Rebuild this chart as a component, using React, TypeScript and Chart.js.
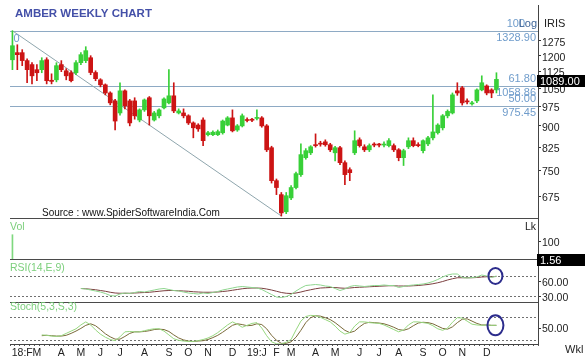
import { useEffect, useRef } from "react";
import { Chart, registerables } from "chart.js";

Chart.register(...registerables);

const TITLE = "AMBER WEEKLY CHART";
const SOURCE = "Source : www.SpiderSoftwareIndia.Com";

// Weekly candles (Feb 2018 - Dec 2019)
const OPEN = [
  1180, 1215, 1215, 1176, 1157, 1133, 1133, 1180, 1085, 1087,
  1157, 1128, 1119, 1119, 1166, 1176, 1190, 1120, 1087, 1065,
  1030, 997, 949, 1039, 997, 997, 922, 961, 1010, 922,
  938, 969, 989, 1018, 949, 949, 938, 911, 903, 922,
  868, 868, 868, 875, 903, 930, 885, 900, 922, 922,
  928, 930, 900, 823, 719, 679, 633, 670, 699, 737,
  790, 806, 833, 836, 843, 833, 806, 823, 774, 752,
  806, 850, 826, 816, 833, 833, 832, 830, 830, 816,
  790, 826, 847, 833, 813, 836, 857, 875, 893, 938,
  949, 1039, 1052, 997, 985, 997, 1043, 1060, 1043, 1043,
];
const HIGH = [
  1329, 1255, 1230, 1185, 1166, 1157, 1190, 1190, 1114, 1166,
  1176, 1138, 1128, 1176, 1215, 1245, 1200, 1128, 1092, 1069,
  1035, 1003, 1074, 1043, 1003, 1010, 965, 1005, 1015, 955,
  965, 1010, 1133, 1074, 965, 965, 942, 915, 908, 930,
  880, 882, 885, 922, 935, 961, 905, 945, 930, 928,
  961, 935, 905, 828, 724, 685, 685, 705, 745, 836,
  820, 830, 871, 845, 850, 838, 828, 828, 780, 758,
  882, 857, 833, 836, 840, 838, 843, 854, 836, 820,
  818, 857, 857, 840, 850, 862, 1022, 908, 943, 961,
  1030, 1074, 1058, 1005, 995, 1048, 1105, 1065, 1048, 1119,
];
const LOW = [
  1133, 1133, 1152, 1074, 1069, 1083, 1119, 1069, 1069, 1078,
  1124, 1087, 1078, 1110, 1157, 1166, 1110, 1083, 1056, 1022,
  981, 885, 940, 965, 900, 925, 915, 955, 903, 918,
  930, 965, 985, 950, 945, 930, 905, 857, 880, 830,
  864, 865, 865, 870, 900, 878, 880, 896, 915, 916,
  922, 895, 810, 712, 679, 622, 628, 665, 695, 732,
  785, 800, 825, 828, 828, 810, 780, 768, 707, 719,
  800, 825, 810, 810, 826, 826, 826, 826, 810, 780,
  765, 820, 826, 826, 806, 830, 850, 870, 885, 930,
  945, 1020, 980, 985, 980, 990, 1039, 1022, 1010, 1030,
];
const CLOSE = [
  1250, 1205, 1176, 1133, 1105, 1119, 1176, 1083, 1080, 1152,
  1133, 1105, 1083, 1166, 1205, 1225, 1120, 1092, 1065, 1030,
  989, 918, 1039, 977, 911, 938, 961, 1001, 938, 949,
  961, 1005, 1018, 957, 957, 938, 911, 893, 889, 847,
  875, 877, 879, 918, 930, 882, 900, 938, 920, 921,
  931, 900, 816, 719, 699, 630, 676, 699, 740, 800,
  813, 826, 830, 835, 833, 816, 823, 774, 737, 743,
  847, 830, 816, 830, 832, 832, 834, 847, 816, 790,
  813, 847, 830, 830, 847, 857, 878, 903, 938, 955,
  1022, 1030, 989, 993, 989, 1043, 1074, 1030, 1030, 1089,
];
const VOLUME = [135];

const RSI_START = 14;
const RSI_LINE = [
  45, 44, 42, 40, 38, 35, 31, 30, 34, 36,
  35, 37, 39, 38, 40, 42, 44, 45, 43, 41,
  40, 38, 36, 35, 34, 36, 35, 37, 39, 42,
  44, 46, 48, 49, 48, 47, 46, 43, 38, 33,
  28, 27, 29, 33, 40, 46, 51, 52, 53, 52,
  50, 49, 45, 41, 44, 49, 51, 50, 49, 50,
  51, 51, 52, 51, 51, 47, 49, 51, 52, 53,
  54, 56, 59, 63, 68, 72, 74, 74, 67, 66,
  67, 68, 72, 70, 67, 70,
];
const RSI_SIGNAL = [
  45, 44.5, 43.5, 42.5, 41, 39.5, 37.5, 36, 35.5, 35.5,
  35.5, 36, 36.5, 37, 37.5, 38.5, 39.5, 40.5, 41, 41,
  40.5, 40, 39.5, 38.5, 38, 37.5, 37.5, 37.5, 38, 39,
  40, 41.5, 43, 44.5, 45.5, 46, 46, 45.5, 44, 42,
  39.5, 37, 35.5, 35, 36, 38, 40.5, 42.5, 44.5, 46,
  46.5, 47, 47, 46, 45.5, 46, 47, 47.5, 48, 48.5,
  49, 49.5, 50, 50.5, 50.5, 50, 50, 50, 50.5, 51,
  52, 53, 54.5, 56.5, 59, 62, 64.5, 66.5, 66.5, 66.5,
  66.5, 67, 68, 68.5, 68.5, 69,
];

const STOCH_START = 6;
const STOCH_K = [
  32, 31, 29, 28, 30, 36, 42, 48, 58, 66,
  58, 45, 34, 26, 20, 17, 27, 40, 41, 40,
  40, 43, 46, 48, 48, 42, 32, 22, 18, 16,
  15, 15, 17, 20, 24, 30, 38, 48, 58, 66,
  60, 52, 57, 62, 64, 50, 30, 14, 9, 8,
  13, 20, 45, 68, 80, 83, 82, 78, 72, 66,
  55, 42, 34, 38, 55, 66, 66, 64, 63, 62,
  58, 52, 46, 40, 45, 58, 66, 66, 64, 62,
  56, 48, 44, 50, 65, 77, 76, 68, 60, 58,
  57, 58, 57, 57,
];
const STOCH_D = [
  30, 31, 30, 29, 29, 31, 36, 42, 49, 57,
  61, 56, 46, 35, 27, 21, 21, 28, 36, 40,
  40, 41, 43, 46, 47, 46, 41, 32, 24, 19,
  16, 15, 16, 17, 20, 25, 31, 39, 48, 57,
  61, 59, 56, 57, 61, 59, 48, 31, 18, 10,
  10, 14, 26, 44, 64, 77, 82, 81, 77, 72,
  64, 54, 44, 38, 42, 53, 62, 65, 64, 63,
  61, 57, 52, 46, 44, 48, 56, 63, 65, 64,
  61, 55, 49, 47, 53, 64, 73, 74, 68, 62,
  58, 58, 57, 57,
];

const BLANK_WEEKS = 8;
const MONTH_TICK_WEEKS = [2, 5, 10, 14, 18, 22, 27, 32, 36, 40, 45, 50, 54, 57, 62, 66, 71, 75, 79, 84, 88, 92, 97];
const MONTH_TICK_LABELS = ["18:F", "M", "A", "M", "J", "J", "A", "S", "O", "N", "D", "19:J", "F", "M", "A", "M", "J", "J", "A", "S", "O", "N", "D"];
const PRICE_TICKS = [675, 750, 825, 900, 975, 1050, 1125, 1200, 1275];
const VOL_TICKS = [100];
const RSI_TICKS = [30, 60];
const STOCH_TICKS = [50];
const RSI_GUIDES = [70, 30];
const STOCH_GUIDES = [80, 20];
const FIB_PCT = ["100", "61.80", "50.00"];
const FIB_VALUES = [1328.9, 1058.86, 975.45];
const TREND_WEEKS = [0, 55];
const TREND_VALUES = [1328.9, 622];
const LAST_PRICE = 1089.0;
const LAST_VOLUME = 1.56;

const FONT = '"Liberation Sans", Arial, sans-serif';
const GREEN = "#38d038";
const RED = "#cc1414";
const FIB_COLOR = "#8eaac4";
const FIB_TEXT = "#6f9ccb";
const LABEL_GREEN = "#7ccf7c";

const WEEKS = Array.from({ length: OPEN.length + BLANK_WEEKS }, (_, i) => `W${i + 1}`);

function padStart(start: number, values: number[]) {
  return [...Array(start).fill(null), ...values];
}

export default function App() {
  const ref = useRef<HTMLCanvasElement>(null);

  useEffect(() => {
    const canvas = ref.current;
    if (!canvas) return;

    const candleColors = CLOSE.map((c, i) => (c >= OPEN[i] ? GREEN : RED));
    const trend: (number | null)[] = WEEKS.map(() => null);
    TREND_WEEKS.forEach((w, k) => (trend[w] = TREND_VALUES[k]));
    const monthLabel: Record<number, string> = {};
    MONTH_TICK_WEEKS.forEach((w, k) => (monthLabel[w] = MONTH_TICK_LABELS[k]));

    const hline = (ctx: any, x0: number, x1: number, y: number) => {
      const yy = Math.round(y) + 0.5;
      ctx.beginPath();
      ctx.moveTo(x0, yy);
      ctx.lineTo(x1, yy);
      ctx.stroke();
    };

    const overlay = {
      id: "overlay",
      beforeDatasetsDraw(chart: any) {
        const { ctx, chartArea: ca, scales } = chart;
        const { price, vol, rsi, stoch } = scales;
        ctx.save();
        ctx.lineWidth = 1;
        ctx.strokeStyle = FIB_COLOR;
        FIB_VALUES.forEach((v) => hline(ctx, ca.left, ca.right, price.getPixelForValue(v)));
        ctx.strokeStyle = "#707070";
        ctx.setLineDash([2, 2]);
        RSI_GUIDES.forEach((v) => hline(ctx, ca.left, ca.right, rsi.getPixelForValue(v)));
        STOCH_GUIDES.forEach((v) => hline(ctx, ca.left, ca.right, stoch.getPixelForValue(v)));
        ctx.setLineDash([]);
        ctx.strokeStyle = "#4a4a4a";
        [price.bottom, vol.bottom, rsi.bottom].forEach((y) => hline(ctx, ca.left, ca.right, y));
        ctx.restore();
      },
      afterDraw(chart: any) {
        const { ctx, chartArea: ca, scales } = chart;
        const { price, vol, rsi, stoch, x } = scales;
        ctx.save();
        ctx.textBaseline = "middle";

        ctx.textAlign = "left";
        ctx.font = `bold 11.5px ${FONT}`;
        ctx.fillStyle = "#4450a8";
        ctx.fillText(TITLE, 15, 14);

        ctx.font = `10px ${FONT}`;
        ctx.fillStyle = "#111";
        ctx.fillText(SOURCE, ca.left + 32, price.bottom - 5);

        // fib labels
        ctx.font = `11px ${FONT}`;
        ctx.fillStyle = FIB_TEXT;
        const y100 = price.getPixelForValue(FIB_VALUES[0]);
        ctx.fillText("0", x.getPixelForValue(0) + 1, y100 + 8);
        ctx.textAlign = "right";
        FIB_VALUES.forEach((v, k) => {
          const y = price.getPixelForValue(v);
          ctx.fillStyle = FIB_TEXT;
          ctx.fillText(FIB_PCT[k], k === 0 ? ca.right - 13 : ca.right - 2, y - 7);
          ctx.fillText(v.toFixed(2), ca.right - 2, y + 7);
        });
        ctx.fillStyle = "#3f6598";
        ctx.fillText("Log", ca.right - 1, y100 - 7);
        ctx.textAlign = "left";
        ctx.fillStyle = "#222";
        ctx.fillText("IRIS", ca.right + 6, y100 - 7);

        // last value boxes
        const box = (text: string, y: number) => {
          ctx.fillStyle = "#000";
          ctx.fillRect(ca.right - 1, Math.round(y) - 6, 48, 12);
          ctx.fillStyle = "#fff";
          ctx.textAlign = "left";
          ctx.fillText(text, ca.right + 2, Math.round(y) + 0.5);
        };
        box(LAST_PRICE.toFixed(2), price.getPixelForValue(LAST_PRICE) + 2);
        box(LAST_VOLUME.toFixed(2), vol.getPixelForValue(LAST_VOLUME) + 1);

        // panel labels
        ctx.font = `10.5px ${FONT}`;
        ctx.textAlign = "left";
        ctx.fillStyle = LABEL_GREEN;
        ctx.fillText("Vol", ca.left, vol.top + 9);
        ctx.fillText("RSI(14,E,9)", ca.left, rsi.top + 9);
        ctx.fillText("Stoch(5,3,S,3)", ca.left, stoch.top + 5);
        ctx.fillStyle = "#222";
        ctx.textAlign = "right";
        ctx.fillText("Lk", ca.right - 2, vol.top + 9);
        ctx.textAlign = "left";
        ctx.font = `11px ${FONT}`;
        ctx.fillText("Wkl", ca.right + 27, x.top + 6);

        // highlight circles on last values
        const lastIdx = OPEN.length - 1;
        const cx = x.getPixelForValue(lastIdx) - 1;
        ctx.strokeStyle = "#2c2c8c";
        ctx.lineWidth = 2;
        ctx.beginPath();
        ctx.ellipse(cx, rsi.getPixelForValue(RSI_LINE[RSI_LINE.length - 1]), 7, 8, 0, 0, Math.PI * 2);
        ctx.stroke();
        ctx.beginPath();
        ctx.ellipse(cx, stoch.getPixelForValue(STOCH_K[STOCH_K.length - 1]), 8, 10, 0, 0, Math.PI * 2);
        ctx.stroke();
        ctx.restore();
      },
    };

    const rightAxis = (weight: number, extra: any) => ({
      position: "right",
      stack: "panels",
      stackWeight: weight,
      afterFit: (s: any) => {
        s.width = 47;
        s.paddingTop = 0;
        s.paddingBottom = 0;
      },
      grid: { drawOnChartArea: false, drawTicks: true, tickLength: 3, color: "#333" },
      border: { display: true, color: "#444" },
      ...extra,
    });
    const tickFont = { family: FONT, size: 10.5 };

    const chart = new Chart(canvas, {
      type: "bar",
      data: {
        labels: WEEKS,
        datasets: [
          {
            type: "bar",
            data: OPEN.map((o, i) => [o, CLOSE[i]]),
            backgroundColor: candleColors,
            barThickness: 4,
            minBarLength: 1,
            grouped: false,
            yAxisID: "price",
          },
          {
            type: "bar",
            data: LOW.map((l, i) => [l, HIGH[i]]),
            backgroundColor: candleColors,
            barThickness: 1,
            grouped: false,
            yAxisID: "price",
          },
          {
            type: "bar",
            data: VOLUME,
            backgroundColor: "#7fd87f",
            barThickness: 1,
            grouped: false,
            yAxisID: "vol",
          },
          {
            type: "line",
            data: trend,
            spanGaps: true,
            borderColor: "#8fa6ad",
            borderWidth: 1,
            pointRadius: 0,
            yAxisID: "price",
          },
          {
            type: "line",
            data: padStart(RSI_START, RSI_LINE),
            borderColor: "#8fd68f",
            borderWidth: 1,
            pointRadius: 0,
            yAxisID: "rsi",
          },
          {
            type: "line",
            data: padStart(RSI_START, RSI_SIGNAL),
            borderColor: "#7b3f3f",
            borderWidth: 1,
            pointRadius: 0,
            yAxisID: "rsi",
          },
          {
            type: "line",
            data: padStart(STOCH_START, STOCH_K),
            borderColor: "#97d77f",
            borderWidth: 1,
            pointRadius: 0,
            yAxisID: "stoch",
          },
          {
            type: "line",
            data: padStart(STOCH_START, STOCH_D),
            borderColor: "#7a6a3a",
            borderWidth: 1,
            pointRadius: 0,
            yAxisID: "stoch",
          },
        ],
      } as any,
      options: {
        responsive: false,
        animation: false,
        events: [],
        layout: { padding: { left: 10, right: 0, top: 5, bottom: 0 } },
        plugins: { legend: { display: false }, tooltip: { enabled: false } },
        scales: {
          x: {
            type: "category",
            offset: true,
            position: "bottom",
            afterFit: (s: any) => {
              s.height = 19;
              s.paddingLeft = 0;
              s.paddingRight = 0;
            },
            ticks: {
              autoSkip: false,
              maxRotation: 0,
              minRotation: 0,
              padding: 1,
              font: tickFont,
              color: "#222",
              callback: (_v: any, i: number) => monthLabel[i] ?? "",
            },
            grid: { drawOnChartArea: false, drawTicks: true, tickLength: 2, color: "#555" },
            border: { display: true, color: "#444" },
          },
          price: rightAxis(213, {
            type: "logarithmic",
            min: 617,
            max: 1477,
            afterBuildTicks: (s: any) => {
              s.ticks = PRICE_TICKS.map((v) => ({ value: v }));
            },
            ticks: { font: tickFont, color: "#222", padding: 1, labelOffset: 2, autoSkip: false, callback: (v: any) => String(v) },
          }),
          vol: rightAxis(41, {
            type: "linear",
            min: 0,
            max: 228,
            afterBuildTicks: (s: any) => {
              s.ticks = VOL_TICKS.map((v) => ({ value: v }));
            },
            ticks: { font: tickFont, color: "#222", padding: 1, labelOffset: 2, callback: (v: any) => String(v) },
          }),
          rsi: rightAxis(43, {
            type: "linear",
            min: 18,
            max: 104,
            afterBuildTicks: (s: any) => {
              s.ticks = RSI_TICKS.map((v) => ({ value: v }));
            },
            ticks: { font: tickFont, color: "#222", padding: 1, labelOffset: 2, callback: (v: any) => Number(v).toFixed(2) },
          }),
          stoch: rightAxis(42, {
            type: "linear",
            min: 8.3,
            max: 117.9,
            afterBuildTicks: (s: any) => {
              s.ticks = STOCH_TICKS.map((v) => ({ value: v }));
            },
            ticks: { font: tickFont, color: "#222", padding: 1, labelOffset: 1, callback: (v: any) => Number(v).toFixed(2) },
          }),
        },
      } as any,
      plugins: [overlay],
    });
    return () => chart.destroy();
  }, []);

  return (
    <div style={{ position: "absolute", left: 0, top: 0, width: 585, height: 363, background: "#fff" }}>
      <canvas ref={ref} width={585} height={363} style={{ display: "block" }} />
    </div>
  );
}
